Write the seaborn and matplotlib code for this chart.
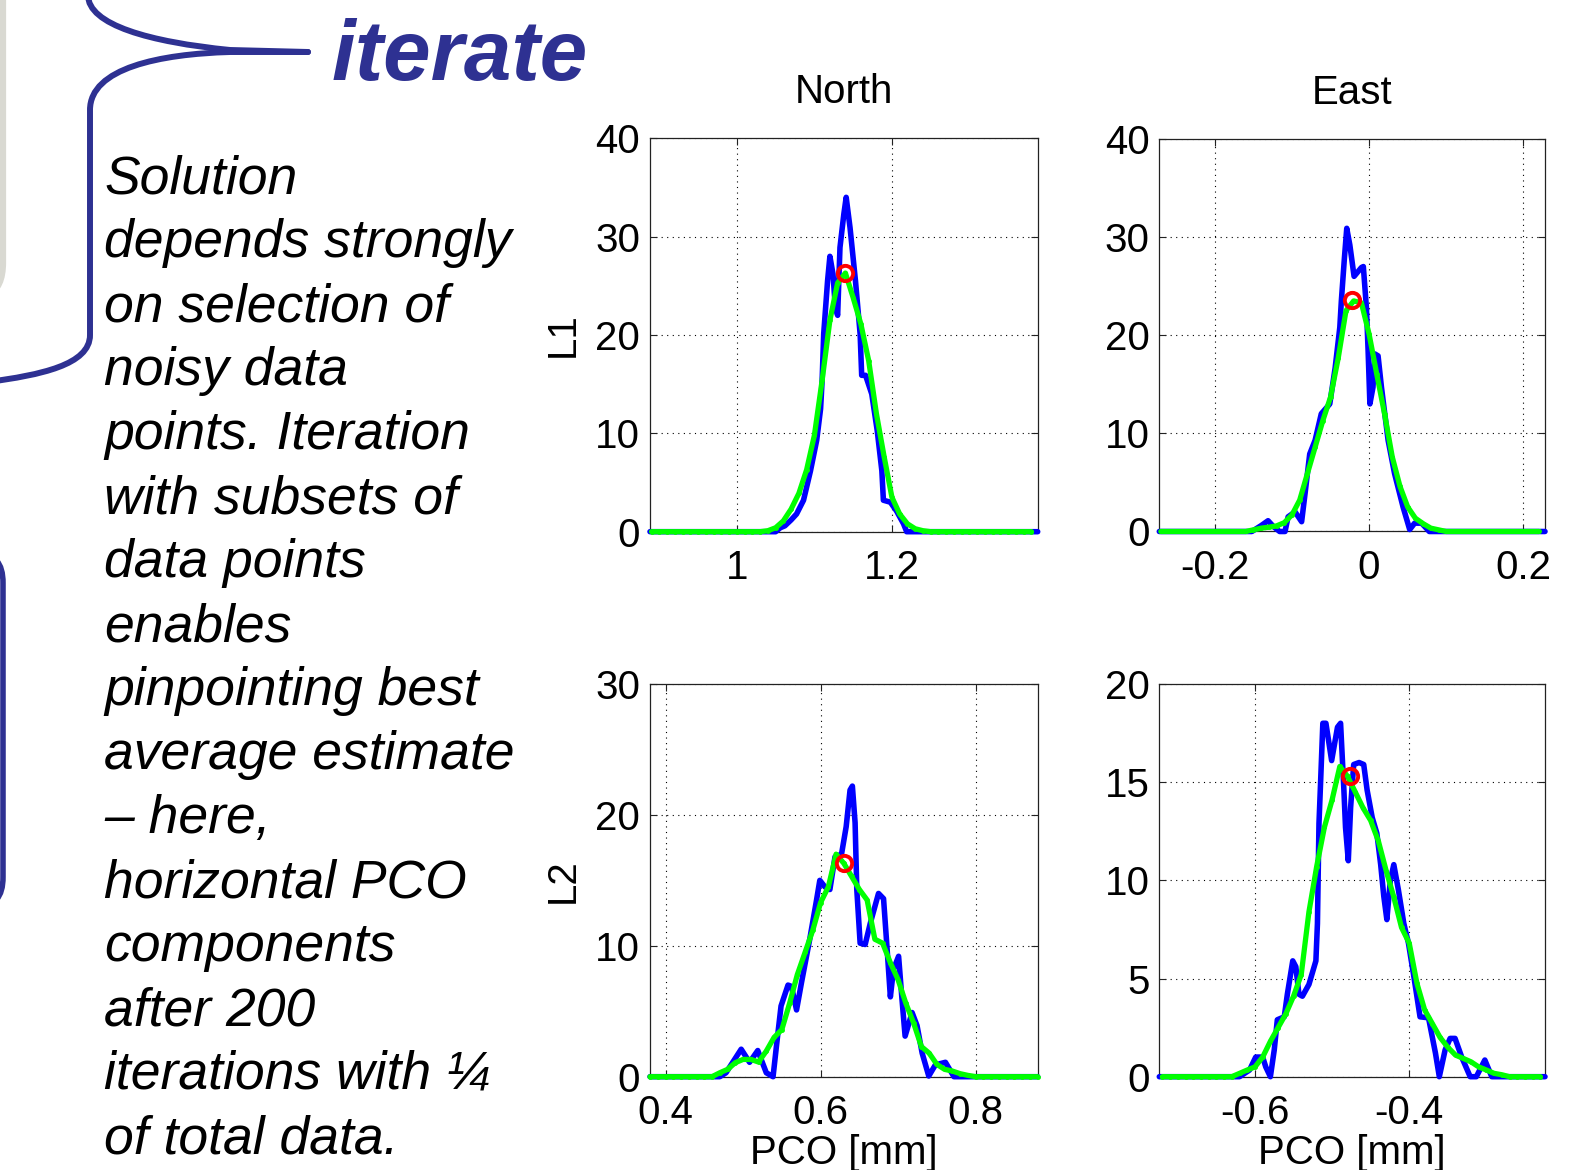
import matplotlib
matplotlib.use("Agg")
import matplotlib.pyplot as plt
from matplotlib.path import Path
from matplotlib.patches import PathPatch
import seaborn as sns

sns.set_theme(style="ticks")
plt.rcParams['font.family'] = ['Liberation Sans', 'DejaVu Sans']
plt.rcParams['text.color'] = 'black'
plt.rcParams['axes.labelcolor'] = 'black'

# ---------------------------------------------------------------------------
# PCO histograms (blue), fitted curves (green, sampled every 0.01 mm) and
# best estimates (red circles) for L1 / L2, North / East components.
# ---------------------------------------------------------------------------

# North, L1
north_l1_hist = [(0.888, 0), (1.050, 0), (1.056, 0.4), (1.062, 0.6), (1.070, 1.2), (1.077, 1.8),
                 (1.086, 3.2), (1.095, 6.2), (1.103, 9.3), (1.108, 12.5), (1.110, 15.4), (1.112, 20.1),
                 (1.117, 25.5), (1.120, 28.0), (1.124, 26.2), (1.127, 22.8), (1.130, 22.0), (1.133, 28.9),
                 (1.138, 32.3), (1.141, 34.0), (1.146, 30.9), (1.153, 25.5), (1.159, 20.1), (1.161, 15.9),
                 (1.166, 15.9), (1.174, 14.0), (1.181, 10.3), (1.187, 6.2), (1.189, 3.2), (1.198, 3.0),
                 (1.206, 2.1), (1.215, 0.8), (1.219, 0), (1.388, 0)]
north_l1_fit_start = 0.89
north_l1_fit = ([0.0] * 15 +
                [0.1, 0.4, 1.1, 2.3, 3.9, 6.3, 9.8, 15.4, 21.5, 25.3, 26.3, 23.8, 21.1, 17.4, 12.0,
                 7.6, 3.5, 1.8, 0.8, 0.3, 0.1] +
                [0.0] * 14)
north_l1_best = (1.139, 26.3)

# East, L1
east_l1_hist = [(-0.272, 0), (-0.152, 0), (-0.140, 0.6), (-0.131, 1.1), (-0.124, 0.5), (-0.116, 0),
                (-0.109, 0), (-0.105, 1.5), (-0.096, 2.0), (-0.0875, 1.0), (-0.083, 3.9), (-0.077, 7.9),
                (-0.070, 9.3), (-0.062, 12.0), (-0.051, 13.0), (-0.044, 16.7), (-0.038, 20.8),
                (-0.036, 23.5), (-0.032, 27.9), (-0.029, 30.9), (-0.025, 29.2), (-0.0195, 26.0),
                (-0.010, 26.9), (-0.0075, 27.0), (-0.0035, 22.8), (-0.0013, 18.4), (0.001, 13.0),
                (0.005, 14.7), (0.0073, 18.1), (0.0116, 17.9), (0.016, 14.7), (0.0246, 9.3),
                (0.033, 5.9), (0.044, 2.5), (0.0526, 0.2), (0.059, 0.85), (0.068, 0.85), (0.078, 0),
                (0.228, 0)]
east_l1_fit_start = -0.27
east_l1_fit = ([0.0] * 12 +
               [0.17, 0.34, 0.44, 0.57, 0.9, 1.7, 3.2, 5.9, 8.6, 11.3, 13.7, 17.7, 22.5, 23.5, 23.3,
                20.1, 16.0, 12.0, 7.6, 4.6, 2.5, 1.35, 0.8, 0.34, 0.17] +
               [0.0] * 13)
east_l1_best = (-0.022, 23.6)

# North, L2
north_l2_hist = [(0.38, 0), (0.470, 0), (0.478, 0.3), (0.4976, 2.1), (0.5084, 1.1), (0.519, 2.0),
                 (0.530, 0.3), (0.5387, 0), (0.543, 2.3), (0.549, 5.4), (0.558, 7.0), (0.5624, 6.9),
                 (0.569, 5.1), (0.5754, 7.2), (0.586, 10.5), (0.5948, 13.5), (0.599, 15.0),
                 (0.6056, 14.5), (0.612, 14.3), (0.6186, 16.8), (0.627, 17.0), (0.633, 19.1),
                 (0.638, 21.9), (0.641, 22.2), (0.6445, 19.4), (0.6467, 14.3), (0.651, 10.2),
                 (0.6575, 10.1), (0.664, 11.7), (0.6747, 14.0), (0.6812, 13.6), (0.6855, 10.0),
                 (0.690, 6.1), (0.694, 8.2), (0.7006, 9.2), (0.705, 5.9), (0.709, 3.1), (0.718, 4.9),
                 (0.7244, 3.9), (0.731, 1.8), (0.7395, 0.05), (0.748, 0.9), (0.761, 1.1), (0.772, 0),
                 (0.88, 0)]
north_l2_fit_start = 0.38
north_l2_fit = ([0.0] * 9 +
                [0.3, 0.56, 1.07, 1.32, 1.32, 1.12, 1.96, 3.0, 3.6, 5.6, 7.8, 9.5, 11.2, 13.3, 14.5,
                 17.0, 16.3, 15.3, 14.3, 13.5, 10.5, 10.2, 8.7, 7.4, 5.6, 4.1, 2.3, 1.8, 0.94, 0.56,
                 0.43, 0.23, 0.1] +
                [0.0] * 9)
north_l2_best = (0.630, 16.3)

# East, L2
east_l2_hist = [(-0.724, 0), (-0.620, 0), (-0.607, 0.34), (-0.599, 1.0), (-0.590, 1.0), (-0.586, 0.5),
                (-0.580, 0), (-0.575, 1.36), (-0.571, 2.9), (-0.562, 3.05), (-0.558, 4.2),
                (-0.551, 5.9), (-0.547, 5.6), (-0.543, 4.2), (-0.5385, 4.1), (-0.530, 4.7),
                (-0.521, 5.9), (-0.519, 7.8), (-0.517, 12.9), (-0.515, 14.9), (-0.512, 18.0),
                (-0.508, 18.0), (-0.5006, 16.1), (-0.493, 17.8), (-0.489, 18.0), (-0.4847, 14.6),
                (-0.4826, 12.7), (-0.479, 11.0), (-0.476, 13.7), (-0.472, 15.9), (-0.465, 16.0),
                (-0.459, 15.9), (-0.4546, 14.6), (-0.448, 13.2), (-0.442, 12.4), (-0.437, 10.8),
                (-0.433, 9.2), (-0.429, 8.0), (-0.4245, 10.0), (-0.420, 10.8), (-0.414, 9.5),
                (-0.407, 7.8), (-0.401, 6.8), (-0.394, 5.1), (-0.386, 3.05), (-0.375, 3.0),
                (-0.366, 1.2), (-0.361, 0), (-0.3535, 1.36), (-0.347, 1.95), (-0.3406, 1.95),
                (-0.332, 1.0), (-0.321, 0), (-0.313, 0), (-0.302, 0.85), (-0.293, 0), (-0.224, 0)]
east_l2_fit_start = -0.72
east_l2_fit = ([0.0] * 9 +
               [0.0, 0.17, 0.34, 0.5, 1.0, 1.8, 2.5, 3.2, 4.1, 5.2, 8.4, 10.7, 12.7, 14.1, 15.8, 15.3,
                14.5, 13.7, 13.05, 12.0, 10.5, 9.15, 7.6, 6.8, 4.75, 3.4, 2.7, 2.0, 1.5, 1.1, 0.93,
                0.76, 0.5, 0.34, 0.17, 0.1] +
               [0.0] * 5)
east_l2_best = (-0.477, 15.3)

# Axis ranges and tick labels
north_l1_xlim, east_l1_xlim = (0.888, 1.388), (-0.272, 0.228)
north_l2_xlim, east_l2_xlim = (0.38, 0.88), (-0.724, -0.224)
north_l1_xticks, north_l1_xlabels = [1.0, 1.2], ["1", "1.2"]
east_l1_xticks, east_l1_xlabels = [-0.2, 0.0, 0.2], ["-0.2", "0", "0.2"]
north_l2_xticks, north_l2_xlabels = [0.4, 0.6, 0.8], ["0.4", "0.6", "0.8"]
east_l2_xticks, east_l2_xlabels = [-0.6, -0.4], ["-0.6", "-0.4"]
l1_yticks = [0, 10, 20, 30, 40]
north_l2_yticks = [0, 10, 20, 30]
east_l2_yticks = [0, 5, 10, 15, 20]

body_lines = ["Solution", "depends strongly", "on selection of", "noisy data",
              "points. Iteration", "with subsets of", "data points", "enables",
              "pinpointing best", "average estimate", "\u2013 here,", "horizontal PCO",
              "components", "after 200", "iterations with \u00bc", "of total data."]

# ---------------------------------------------------------------------------
W, H, DPI = 1591, 1170, 100
NAVY = "#2e3192"
fig = plt.figure(figsize=(W / DPI, H / DPI), dpi=DPI, facecolor="white")

# background layer in pixel units for the slide decorations and text
deco = fig.add_axes([0, 0, 1, 1], zorder=0)
deco.set_xlim(0, W)
deco.set_ylim(H, 0)
deco.axis("off")

M, L, C = Path.MOVETO, Path.LINETO, Path.CURVE4
shapes = [
    # grey box edge, top left
    ([(3, -10), (3, 262), (3, 280), (-2, 290), (-12, 295)], [M, L, C, C, C], "#d9d9d2", 4.5),
    # navy box edge, middle left
    ([(-25, 553), (-5, 553), (3, 563), (3, 583), (3, 877), (3, 897), (-5, 907), (-25, 907)],
     [M, C, C, C, L, C, C, C], NAVY, 4.0),
    # brace pointing to the heading
    ([(88, -30), (88, -5), (88, 25), (150, 42), (230, 50), (308, 52)], [M, L, C, C, C, L], NAVY, 4.3),
    ([(308, 52), (230, 52), (160, 54), (90, 68), (90, 110), (90, 335), (90, 365), (40, 375), (-12, 382)],
     [M, L, C, C, C, L, C, C, C], NAVY, 4.3),
]
for verts, codes, col, lw in shapes:
    deco.add_patch(PathPatch(Path(verts, codes), facecolor="none", edgecolor=col, lw=lw,
                             capstyle="round", joinstyle="round"))

deco.text(332, 80, "iterate", fontsize=61.5, fontweight="bold", fontstyle="italic",
          color=NAVY, ha="left", va="baseline")
for i, line in enumerate(body_lines):
    deco.text(104, 193 + 64 * i, line, fontsize=38.5, fontstyle="italic", color="black",
              ha="left", va="baseline")

# ---------------------------------------------------------------------------
FS = 29
panels = [
    dict(box=(650, 138.3, 1037.7, 531.7), hist=north_l1_hist, fs=north_l1_fit_start, fit=north_l1_fit,
         best=north_l1_best, xlim=north_l1_xlim, ylim=(0, 40), xt=north_l1_xticks,
         xl=north_l1_xlabels, yt=l1_yticks, title="North", ylabel="L1", xlabel=None),
    dict(box=(1159.3, 139, 1545, 531.5), hist=east_l1_hist, fs=east_l1_fit_start, fit=east_l1_fit,
         best=east_l1_best, xlim=east_l1_xlim, ylim=(0, 40), xt=east_l1_xticks,
         xl=east_l1_xlabels, yt=l1_yticks, title="East", ylabel=None, xlabel=None),
    dict(box=(650, 684, 1037.7, 1076.7), hist=north_l2_hist, fs=north_l2_fit_start, fit=north_l2_fit,
         best=north_l2_best, xlim=north_l2_xlim, ylim=(0, 30), xt=north_l2_xticks,
         xl=north_l2_xlabels, yt=north_l2_yticks, title=None, ylabel="L2", xlabel="PCO [mm]"),
    dict(box=(1159.3, 684, 1545, 1076.7), hist=east_l2_hist, fs=east_l2_fit_start, fit=east_l2_fit,
         best=east_l2_best, xlim=east_l2_xlim, ylim=(0, 20), xt=east_l2_xticks,
         xl=east_l2_xlabels, yt=east_l2_yticks, title=None, ylabel=None, xlabel="PCO [mm]"),
]

for p in panels:
    l, t, r, b = p["box"]
    ax = fig.add_axes([l / W, 1 - b / H, (r - l) / W, (b - t) / H], zorder=2)
    ax.set_facecolor("white")

    hx = [pt[0] for pt in p["hist"]]
    hy = [pt[1] for pt in p["hist"]]
    fx = [round(p["fs"] + 0.01 * k, 3) for k in range(len(p["fit"]))]

    sns.lineplot(x=hx, y=hy, ax=ax, color="#0000ff", lw=4.0, sort=False, estimator=None,
                 clip_on=False, zorder=3)
    sns.lineplot(x=fx, y=p["fit"], ax=ax, color="#00ff00", lw=3.8, sort=False, estimator=None,
                 marker=".", markersize=7, markeredgewidth=0, clip_on=False, zorder=4)
    ax.plot([p["best"][0]], [p["best"][1]], "o", ms=11, mfc="none", mec="#ff0000", mew=2.8,
            zorder=5, clip_on=False)

    ax.set_xlim(*p["xlim"])
    ax.set_ylim(*p["ylim"])
    ax.set_xticks(p["xt"], p["xl"])
    ax.set_yticks(p["yt"], [str(v) for v in p["yt"]])
    ax.grid(True, color="black", linestyle=(0, (1, 4)), linewidth=0.8)
    ax.set_axisbelow(True)
    ax.tick_params(axis="both", direction="in", length=5, width=0.8, colors="#222222",
                   labelcolor="black", labelsize=FS, top=True, right=True)
    ax.tick_params(axis="x", pad=12.5)
    ax.tick_params(axis="y", pad=7.0)
    for sp in ax.spines.values():
        sp.set_color("#222222")
        sp.set_linewidth(0.9)

    if p["title"]:
        ax.set_title(p["title"], fontsize=FS, pad=25.5, color="black")
    if p["ylabel"]:
        ax.set_ylabel(p["ylabel"], fontsize=FS)
        ax.yaxis.set_label_coords(-0.175, 0.5)
    if p["xlabel"]:
        ax.set_xlabel(p["xlabel"], fontsize=FS)
        ax.xaxis.set_label_coords(0.5, -0.146)

fig.savefig("out.png", dpi=DPI, facecolor="white")
